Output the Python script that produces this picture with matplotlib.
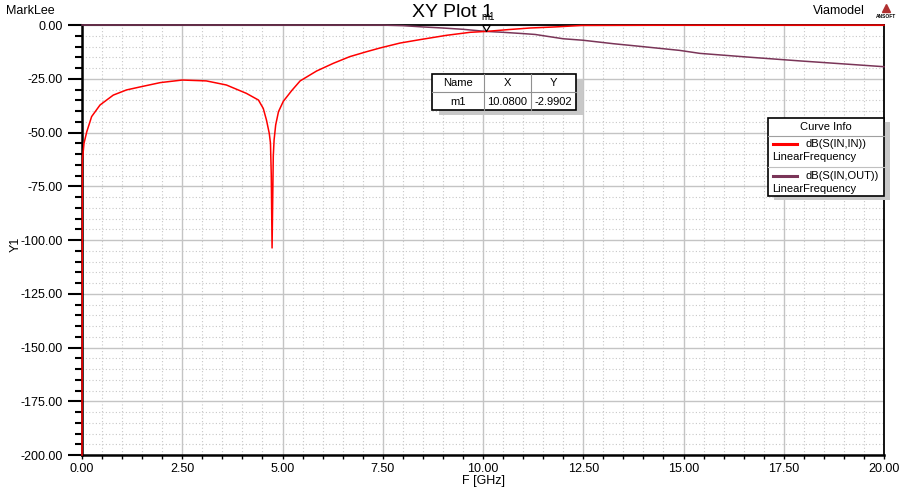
import matplotlib
matplotlib.use("Agg")
import matplotlib.pyplot as plt
from matplotlib.patches import Rectangle
from matplotlib.lines import Line2D
from matplotlib.ticker import MultipleLocator, FormatStrFormatter

plt.rcParams["font.family"] = ["Liberation Sans", "DejaVu Sans"]

# dB(S(IN,IN))
freq_s11 = [0.00, 0.01, 0.05, 0.12, 0.24, 0.45, 0.78, 1.11, 1.45, 1.95, 2.50,
            3.10, 3.60, 4.10, 4.40, 4.52, 4.60, 4.67, 4.70, 4.72, 4.74, 4.77,
            4.79, 4.83, 4.90, 5.02, 5.23, 5.44, 5.85, 6.27, 6.68, 7.10, 7.43, 7.93,
            8.43, 9.09, 9.68, 10.08, 10.59, 11.17, 11.80, 12.47, 14.40, 20.00]
db_s11 = [-200.0, -63.0, -55.0, -49.6, -42.6, -37.2, -32.6, -30.2, -28.8, -26.8,
          -25.6, -26.0, -27.9, -31.8, -34.9, -38.8, -44.2, -50.4, -55.0, -69.8,
          -103.7, -61.0, -53.5, -46.5, -40.3, -35.5, -30.5, -26.0, -21.4, -17.8,
          -14.7, -12.4, -10.7, -8.4, -6.8, -4.8, -3.4, -2.99, -2.2, -1.4, -0.9,
          -0.2, -0.1, -0.05]

# dB(S(IN,OUT))
freq_s21 = [0.00, 7.50, 8.00, 8.50, 9.00, 9.50, 10.08, 10.50, 11.00, 11.30,
            12.00, 12.50, 13.25, 13.90, 14.90, 15.41, 16.66, 17.90, 19.15, 20.00]
db_s21 = [0.0, -0.05, -0.3, -0.9, -1.4, -2.0, -2.99, -3.4, -4.0, -4.4,
          -6.4, -7.1, -8.7, -9.9, -11.8, -13.2, -15.0, -16.7, -18.3, -19.4]

marker_name = "m1"
marker_x = 10.08
marker_y = -2.9902

RED = "#ff0000"
BROWN = "#7a3558"
W, H = 908, 490


def px(x, y):
    """Pixeles de la imagen -> coordenadas de figura."""
    return x / W, 1 - y / H


fig = plt.figure(figsize=(W / 100, H / 100), dpi=100)
ax = fig.add_axes([82 / W, 1 - 455 / H, (884 - 82) / W, (455 - 25) / H])

ax.plot(freq_s11, db_s11, color=RED, lw=1.1, zorder=4, clip_on=False)
ax.plot(freq_s21, db_s21, color=BROWN, lw=1.1, zorder=3, clip_on=False)

# marcador m1
ax.plot([marker_x], [marker_y], marker=[(-0.6, 1), (0.6, 1), (0, 0), (-0.6, 1)],
        ms=9, mfc="none", mec="black", mew=0.9, ls="none", zorder=5, clip_on=False)
ax.annotate(marker_name, (marker_x, marker_y), xytext=(1.5, 6.5), textcoords="offset points",
            ha="center", va="bottom", fontsize=7)

ax.set_xlim(0, 20)
ax.set_ylim(-200, 0)
ax.xaxis.set_major_locator(MultipleLocator(2.5))
ax.xaxis.set_minor_locator(MultipleLocator(0.5))
ax.yaxis.set_major_locator(MultipleLocator(25))
ax.yaxis.set_minor_locator(MultipleLocator(5))
ax.xaxis.set_major_formatter(FormatStrFormatter("%.2f"))
ax.yaxis.set_major_formatter(FormatStrFormatter("%.2f"))
ax.tick_params(axis="y", which="major", length=10, width=1.5, pad=4, labelsize=9)
ax.tick_params(axis="y", which="minor", length=5, width=1.5)
ax.tick_params(axis="x", which="both", length=3, width=1, pad=3, labelsize=9)

ax.grid(which="major", color="#c4c4c4", lw=1)
ax.grid(which="minor", color="#c8c8c8", lw=0.8, ls=(0, (1, 2)))
ax.set_axisbelow(True)
for s in ax.spines.values():
    s.set_linewidth(1.3)
ax.spines["left"].set_linewidth(1.8)
ax.spines["bottom"].set_linewidth(1.8)

ax.set_xlabel("F [GHz]", fontsize=9, labelpad=0)
ax.set_ylabel("Y1", fontsize=9)
ax.yaxis.set_label_coords(-0.075, 0.49)

# textos de cabecera
fig.text(*px(452, 17), "XY Plot 1", ha="center", va="baseline", fontsize=14)
fig.text(*px(6, 11), "MarkLee", ha="left", va="center", fontsize=9)
fig.text(*px(865, 11), "Viamodel", ha="right", va="center", fontsize=9)
fig.text(*px(886, 16), "ANSOFT", ha="center", va="center", fontsize=3.5, fontweight="bold")
fig.add_artist(Line2D([886 / W], [1 - 8 / H], marker="^", ms=6, color="#b03030",
                      transform=fig.transFigure))


def box(x0, y0, x1, y1, shadow=(7, 5)):
    """Caja blanca con sombra gris, en pixeles."""
    fig.add_artist(Rectangle(px(x0 + shadow[0], y1 + shadow[1]), (x1 - x0) / W,
                             (y1 - y0) / H, transform=fig.transFigure,
                             facecolor="#c8c8c8", edgecolor="none"))
    fig.add_artist(Rectangle(px(x0, y1), (x1 - x0) / W, (y1 - y0) / H,
                             transform=fig.transFigure, facecolor="white",
                             edgecolor="black", lw=1.2))


def hline(x0, x1, y, color="black", lw=0.8):
    fig.add_artist(Line2D([x0 / W, x1 / W], [1 - y / H, 1 - y / H], color=color, lw=lw,
                          transform=fig.transFigure))


def vline(x, y0, y1, color="black", lw=0.8):
    fig.add_artist(Line2D([x / W, x / W], [1 - y0 / H, 1 - y1 / H], color=color, lw=lw,
                          transform=fig.transFigure))


# tabla del marcador
box(432, 74, 576, 110)
hline(432, 576, 92.5, color="#909090")
vline(484, 74, 110, color="#909090")
vline(531, 74, 110, color="#909090")
for cx, head, val in [(458, "Name", marker_name), (507.5, "X", f"{marker_x:.4f}"),
                      (553.5, "Y", f"{marker_y:.4f}")]:
    fig.text(*px(cx, 83.5), head, ha="center", va="center", fontsize=8)
    fig.text(*px(cx, 101.5), val, ha="center", va="center", fontsize=8)

# leyenda "Curve Info"
box(768, 118, 884, 196, shadow=(6, 4))
fig.text(*px(826, 127), "Curve Info", ha="center", va="center", fontsize=8)
hline(768, 884, 136, color="#a0a0a0")
hline(768, 884, 167, color="#c0c0c0")
for y, color, name in [(144, RED, "dB(S(IN,IN))"), (176, BROWN, "dB(S(IN,OUT))")]:
    hline(773, 797, y, color=color, lw=2.2)
    fig.text(*px(805, y), name, ha="left", va="center", fontsize=8)
    fig.text(*px(772, y + 12.5), "LinearFrequency", ha="left", va="center", fontsize=8)

fig.savefig("out.png", dpi=100)
